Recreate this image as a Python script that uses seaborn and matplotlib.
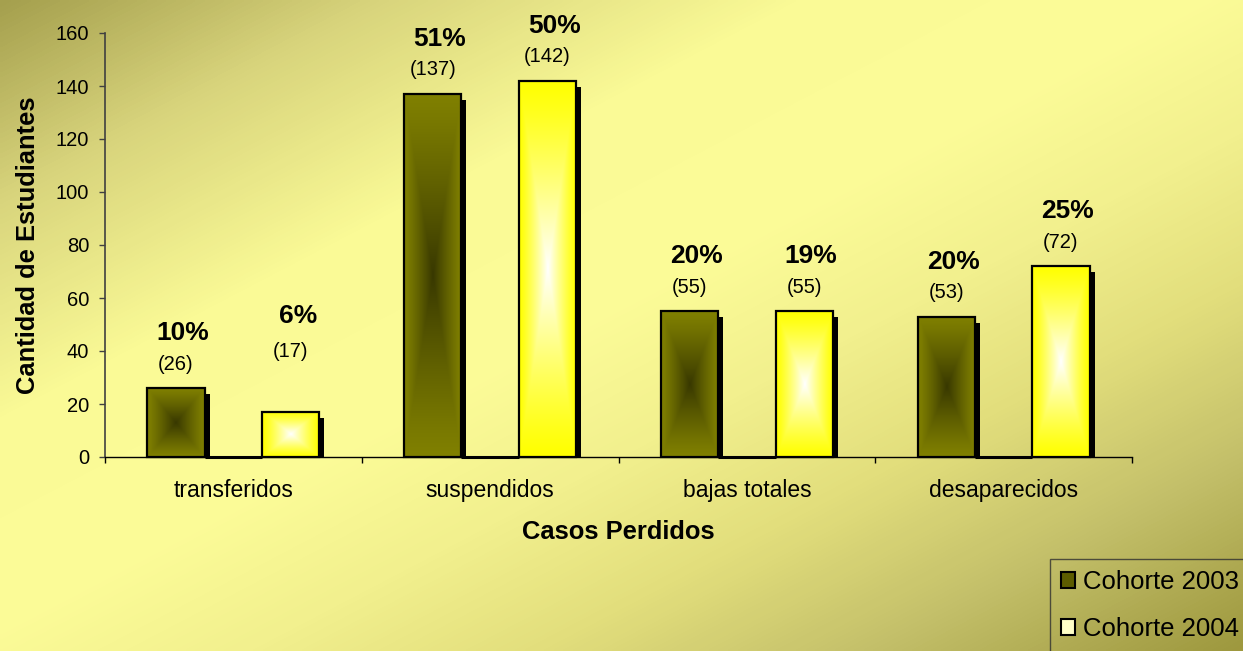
import numpy as np
import pandas as pd
import seaborn as sns
import matplotlib.pyplot as plt
from matplotlib.colors import LinearSegmentedColormap, to_rgb
from matplotlib.patches import Patch, Rectangle
from matplotlib.transforms import ScaledTranslation

# --- data
categorias = ["transferidos", "suspendidos", "bajas totales", "desaparecidos"]
cohorte_2003 = [26, 137, 55, 53]
cohorte_2004 = [17, 142, 55, 72]
pct_2003 = [10, 51, 20, 20]
pct_2004 = [6, 50, 19, 25]
series = ["Cohorte 2003", "hueco", "Cohorte 2004"]
y_ticks = [0, 20, 40, 60, 80, 100, 120, 140, 160]

df = pd.DataFrame(
    {
        "caso": categorias * 3,
        "cohorte": [s for s in series for _ in categorias],
        "n": cohorte_2003 + [0] * len(categorias) + cohorte_2004,
    }
)

# --- setup
W, H = 1243, 651
sns.set_theme(style="white")
plt.rcParams["font.family"] = ["Liberation Sans", "DejaVu Sans"]
plt.rcParams["text.color"] = "black"

fig = plt.figure(figsize=(W / 100, H / 100), dpi=100)

# diagonal background gradient
fondo = LinearSegmentedColormap.from_list(
    "fondo",
    [
        (0.0, "#a5a04e"),
        (0.15, "#d8d47c"),
        (0.32, "#fafa96"),
        (0.48, "#fcfc98"),
        (0.6, "#f2f08e"),
        (0.72, "#e2de7c"),
        (0.85, "#c4c06a"),
        (1.0, "#9e983e"),
    ],
)
bg = fig.add_axes([0, 0, 1, 1], zorder=0)
xx, yy = np.meshgrid(np.linspace(0, 1, 400), np.linspace(0, 1, 210))
bg.imshow((xx + yy) / 2, cmap=fondo, vmin=0, vmax=1, extent=[0, 1, 0, 1],
          aspect="auto", origin="upper", interpolation="bilinear")
bg.axis("off")

ax = fig.add_axes([105 / W, 1 - 457 / H, 1027 / W, 424 / H], zorder=1)
ax.patch.set_alpha(0)

sns.barplot(
    data=df, x="caso", y="n", hue="cohorte", hue_order=series,
    palette=["#808000", "#ffffff", "#ffff00"], width=0.67, gap=0,
    edgecolor="black", linewidth=1.6, errorbar=None, legend=False, ax=ax,
)

# --- gradient fill + drop shadow for each bar
colores = {0: ("#808000", "#383800"), 2: ("#ffff00", "#ffffff")}
sombra = ax.transData + ScaledTranslation(5 / 100, -6 / 100, fig.dpi_scale_trans)
u, v = np.meshgrid(np.linspace(-1, 1, 60), np.linspace(-1, 1, 240))
k = ((1 - np.maximum(np.abs(u), np.abs(v))) ** 1.2)[..., None]

for j, cont in enumerate(ax.containers):
    for bar in cont:
        bar.set_zorder(3)
        bar.set_clip_on(False)
        bar.set_facecolor("none")
        if j not in colores:
            bar.set_linewidth(2.2)
            continue
        x0, w, h = bar.get_x(), bar.get_width(), bar.get_height()
        borde, centro = colores[j]
        img = np.array(to_rgb(borde)) * (1 - k) + np.array(to_rgb(centro)) * k
        ax.imshow(img, extent=[x0, x0 + w, 0, h], aspect="auto", zorder=2,
                  interpolation="bilinear")
        ax.add_patch(Rectangle((x0, 0), w, h, transform=sombra,
                               facecolor="black", edgecolor="none", zorder=1.5))

# --- value labels (percent above, count in brackets)
subir = {(2, 0): (36, 41)}  # label moved up by hand in the original
for j, valores, pcts in [(0, cohorte_2003, pct_2003), (2, cohorte_2004, pct_2004)]:
    for i, bar in enumerate(ax.containers[j]):
        xc = bar.get_x() + bar.get_width() / 2
        extra_n, extra_p = subir.get((j, i), (0, 0))
        ax.annotate(f"({valores[i]})", (xc, valores[i]),
                    xytext=(0, (24 + extra_n) * 0.72), textcoords="offset points",
                    ha="center", va="center", fontsize=14.5, color="black")
        ax.annotate(f"{pcts[i]}%", (xc, valores[i]),
                    xytext=(5, (55 + extra_p) * 0.72), textcoords="offset points",
                    ha="center", va="center", fontsize=19, fontweight="bold",
                    color="black")

# --- axes
ax.set_xlim(-0.5, 3.5)
ax.set_ylim(0, 160)
ax.set_yticks(y_ticks)
ax.set_xticks(range(len(categorias)))
ax.set_xticklabels(categorias)
ax.set_xticks([-0.5, 0.5, 1.5, 2.5, 3.5], minor=True)
ax.tick_params(axis="y", left=True, direction="out", length=4.3, width=1,
               color="#404040", labelsize=14.5, labelcolor="black", pad=7)
ax.tick_params(axis="x", which="major", bottom=True, length=0, labelsize=16.5,
               labelcolor="black", pad=16)
ax.tick_params(axis="x", which="minor", bottom=True, direction="out",
               length=4.3, width=1, color="black")
for lado in ["top", "right"]:
    ax.spines[lado].set_visible(False)
ax.spines["left"].set_color("#404040")
ax.spines["bottom"].set_color("black")
ax.spines["left"].set_linewidth(1.2)
ax.spines["bottom"].set_linewidth(1)

ax.set_xlabel("Casos Perdidos", fontsize=18.4, fontweight="bold", color="black")
ax.set_ylabel("Cantidad de Estudiantes", fontsize=18.4, fontweight="bold",
              color="black")
ax.xaxis.set_label_coords(0.5, -0.149)
ax.yaxis.set_label_coords(-0.063, 0.5)

# --- legend (box runs off the right and bottom edges, as in the original)
handles = [
    Patch(facecolor="#5c5c00", edgecolor="black", linewidth=1.5, label="Cohorte 2003"),
    Patch(facecolor="#ffffc8", edgecolor="black", linewidth=1.5, label="Cohorte 2004"),
]
leg = fig.legend(
    handles=handles, loc="upper left", bbox_to_anchor=(1050 / W, 1 - 559 / H),
    frameon=True, fancybox=False, facecolor="none", edgecolor="#303030",
    fontsize=18.5, labelcolor="black", handlelength=0.57, handleheight=0.57,
    handletextpad=0.3, labelspacing=0.9, borderpad=0.42, borderaxespad=0,
)
leg.get_frame().set_linewidth(1)

plt.savefig("out.png", dpi=100)
